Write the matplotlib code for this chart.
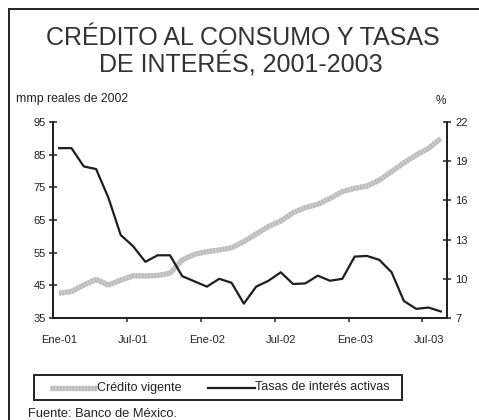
import numpy as np
import matplotlib.pyplot as plt
from matplotlib.lines import Line2D
from matplotlib.patches import Rectangle

plt.rcParams['font.family'] = ['Liberation Sans', 'DejaVu Sans']

# monthly data, Ene-2001 .. Ago-2003
credito = [42.6, 43.1, 45.1, 46.8, 45.1, 46.6, 47.9, 47.9, 48.0, 48.7,
           52.8, 54.5, 55.3, 55.8, 56.5, 58.4, 60.7, 63.0, 64.7, 67.2,
           68.8, 69.8, 71.6, 73.7, 74.7, 75.4, 77.2, 79.8, 82.5, 84.9,
           86.9, 90.0]
tasas = [20.0, 20.0, 18.6, 18.4, 16.2, 13.35, 12.5, 11.3, 11.8, 11.8,
         10.2, 9.8, 9.4, 10.0, 9.7, 8.1, 9.4, 9.85, 10.5, 9.6,
         9.65, 10.24, 9.85, 10.0, 11.7, 11.75, 11.45, 10.5, 8.3, 7.7,
         7.8, 7.5]
tick_labels = ['Ene-01', 'Jul-01', 'Ene-02', 'Jul-02', 'Ene-03', 'Jul-03']
left_ticks = [35, 45, 55, 65, 75, 85, 95]
right_ticks = [7, 10, 13, 16, 19, 22]
series_names = ['Crédito vigente', 'Tasas de interés activas']

txt = '#222222'
W, H = 479, 420
x = np.arange(len(credito))


def fx(px):
    return px / W


def fy(py):
    return 1 - py / H


fig = plt.figure(figsize=(W / 100, H / 100), dpi=100)
ax = fig.add_axes([fx(53), fy(318), 394 / W, 196 / H])
ax2 = ax.twinx()

# outer frame (runs off the right and bottom edges)
fig.patches.append(Rectangle((fx(9), -0.05), 1.2, fy(9) + 0.05,
                             transform=fig.transFigure, fill=False,
                             edgecolor='#222222', lw=1.4))

ax.plot(x, credito, color='#cbcbcb', lw=3.8, solid_capstyle='butt')
ax.plot(x, credito, color='#b9b9b9', lw=3.8, ls=(0, (0.25, 0.35)))
ax2.plot(x, tasas, color='#1e1e1e', lw=1.6)

ax.set_xlim(-0.5, len(credito) - 0.5)
ax.set_ylim(35, 95)
ax2.set_ylim(7, 22)
ax.set_yticks(left_ticks)
ax2.set_yticks(right_ticks)

ax.set_xticks(np.arange(0, len(credito), 6))
ax.set_xticklabels(tick_labels)
ax.set_xticks(np.arange(5.5, len(credito), 6), minor=True)
ax.tick_params(axis='x', which='major', length=0, pad=12, labelsize=8,
               labelcolor=txt)
ax.tick_params(axis='x', which='minor', direction='out', length=3,
               width=1.1, color='#222222')
ax.tick_params(axis='y', direction='inout', length=6, width=1.1,
               labelsize=8, labelcolor=txt, pad=2, color='#222222')
ax2.tick_params(axis='y', direction='inout', length=6, width=1.1,
                labelsize=8, labelcolor=txt, pad=3, color='#222222')

for a in (ax, ax2):
    a.spines['top'].set_visible(False)
    for s in ('left', 'right', 'bottom'):
        a.spines[s].set_linewidth(1.4)
        a.spines[s].set_color('#222222')

fig.text(fx(243), fy(38), 'CRÉDITO AL CONSUMO Y TASAS',
         ha='center', va='center', fontsize=18, color='#333333')
fig.text(fx(241), fy(65), 'DE INTERÉS, 2001-2003',
         ha='center', va='center', fontsize=18, color='#333333')
fig.text(fx(16), fy(99), 'mmp reales de 2002', ha='left',
         va='center', fontsize=8.8, color=txt)
fig.text(fx(441), fy(101), '%', ha='center', va='center',
         fontsize=8.5, color=txt)
fig.text(fx(28), fy(414), 'Fuente: Banco de México.', ha='left',
         va='center', fontsize=9.3, color=txt)

# legend box drawn by hand
fig.patches.append(Rectangle((fx(34), fy(400)), 368 / W, 25 / H,
                             transform=fig.transFigure, fill=False,
                             edgecolor='#222222', lw=1.4))
ly = fy(387.5)
fig.add_artist(Line2D([fx(50), fx(97)], [ly, ly], color='#cbcbcb', lw=3.8,
                      solid_capstyle='butt'))
fig.add_artist(Line2D([fx(50), fx(97)], [ly, ly], color='#b9b9b9', lw=3.8,
                      ls=(0, (0.25, 0.35))))
fig.text(fx(97), ly, series_names[0], ha='left', va='center',
         fontsize=9, color=txt)
fig.add_artist(Line2D([fx(208), fx(255)], [ly, ly], color='#1e1e1e',
                      lw=1.6))
fig.text(fx(255), ly, series_names[1], ha='left', va='center',
         fontsize=9, color=txt)

fig.savefig('out.png', dpi=100)
